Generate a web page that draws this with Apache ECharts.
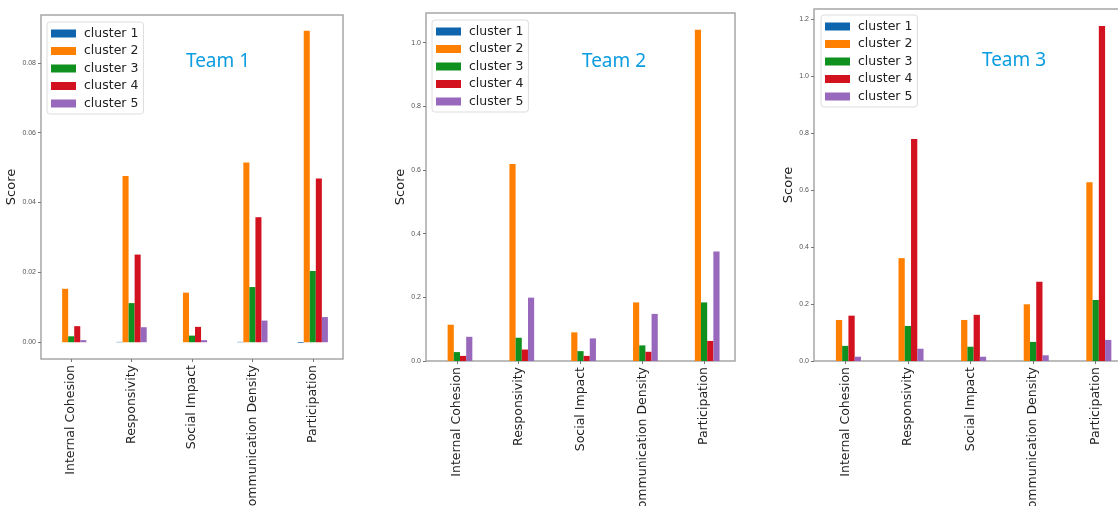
<!DOCTYPE html>
<html>
<head>
<meta charset="utf-8">
<script src="https://cdn.jsdelivr.net/npm/echarts@6/dist/echarts.min.js"></script>
<style>
  html, body { margin: 0; padding: 0; background: #fff; }
  #main { width: 1118px; height: 506px; }
</style>
</head>
<body>
<div id="main"></div>
<script>
// data
var categories = ['Internal Cohesion', 'Responsivity', 'Social Impact', 'Communication Density', 'Participation'];
var clusterNames = ['cluster 1', 'cluster 2', 'cluster 3', 'cluster 4', 'cluster 5'];
var clusterColors = ['#0f64ae', '#ff8000', '#10901e', '#d2121f', '#9868bd'];

// Team 1
var team1_c1 = [0, 0.0001, 0, 0.0001, -0.0002];
var team1_c2 = [0.0153, 0.0476, 0.0142, 0.0515, 0.0892];
var team1_c3 = [0.0017, 0.0112, 0.0019, 0.0158, 0.0204];
var team1_c4 = [0.0046, 0.0251, 0.0044, 0.0358, 0.0469];
var team1_c5 = [0.0006, 0.0043, 0.0006, 0.0062, 0.0072];

// Team 2
var team2_c1 = [0, 0, 0, 0, 0];
var team2_c2 = [0.114, 0.619, 0.090, 0.184, 1.040];
var team2_c3 = [0.028, 0.073, 0.031, 0.049, 0.184];
var team2_c4 = [0.016, 0.036, 0.016, 0.029, 0.063];
var team2_c5 = [0.076, 0.199, 0.071, 0.148, 0.344];

// Team 3
var team3_c1 = [0, 0, 0, 0, 0];
var team3_c2 = [0.144, 0.361, 0.144, 0.199, 0.627];
var team3_c3 = [0.053, 0.123, 0.050, 0.067, 0.214];
var team3_c4 = [0.159, 0.779, 0.162, 0.278, 1.175];
var team3_c5 = [0.015, 0.043, 0.015, 0.020, 0.074];

var team1Ticks = [0, 0.02, 0.04, 0.06, 0.08];
var team2Ticks = [0, 0.2, 0.4, 0.6, 0.8, 1.0];
var team3Ticks = [0, 0.2, 0.4, 0.6, 0.8, 1.0, 1.2];

var teams = [
    { title: 'Team 1', data: [team1_c1, team1_c2, team1_c3, team1_c4, team1_c5], ticks: team1Ticks, min: -0.0048, max: 0.0937, digits: 2,
      grid: { left: 41, top: 15, width: 302, height: 344 }, nameGap: 19, legend: { left: 47, top: 22 }, titlePos: [218, 62] },
    { title: 'Team 2', data: [team2_c1, team2_c2, team2_c3, team2_c4, team2_c5], ticks: team2Ticks, min: 0, max: 1.093, digits: 1,
      grid: { left: 426, top: 13, width: 309, height: 348 }, nameGap: 16, legend: { left: 432, top: 20 }, titlePos: [614, 62] },
    { title: 'Team 3', data: [team3_c1, team3_c2, team3_c3, team3_c4, team3_c5], ticks: team3Ticks, min: 0, max: 1.235, digits: 1,
      grid: { left: 814, top: 9, width: 313, height: 352 }, nameGap: 15, legend: { left: 821, top: 15 }, titlePos: [1014, 61] }
];

var chart = echarts.init(document.getElementById('main'), null, { renderer: 'canvas' });

var grids = [], xAxes = [], yAxes = [], series = [], legends = [], graphics = [];

teams.forEach(function (t, i) {
    grids.push({
        left: t.grid.left, top: t.grid.top, width: t.grid.width, height: t.grid.height,
        containLabel: false, outerBoundsMode: 'none',
        show: true, borderColor: '#a6a6a6', borderWidth: 1.5, backgroundColor: 'transparent'
    });
    xAxes.push({
        type: 'category', gridIndex: i, data: categories, boundaryGap: true,
        axisLine: { show: false, onZero: false },
        axisTick: { show: true, alignWithLabel: true, length: 3, lineStyle: { color: '#777' } },
        axisLabel: { rotate: 90, fontSize: 12.5, color: '#222', margin: 6, fontFamily: 'DejaVu Sans', interval: 0 },
        splitLine: { show: false }
    });
    var digits = t.digits;
    yAxes.push({
        type: 'value', gridIndex: i, min: t.min, max: t.max,
        name: 'Score', nameLocation: 'middle', nameGap: t.nameGap,
        nameTextStyle: { fontSize: 13, color: '#222', fontFamily: 'DejaVu Sans' },
        axisLine: { show: false },
        axisTick: { show: true, length: 3, customValues: t.ticks, lineStyle: { color: '#777' } },
        axisLabel: {
            fontSize: 7, color: '#555', margin: 5, customValues: t.ticks,
            formatter: function (v) { return v.toFixed(digits); }
        },
        splitLine: { show: false }
    });
    t.data.forEach(function (vals, k) {
        series.push({
            type: 'bar', name: clusterNames[k], xAxisIndex: i, yAxisIndex: i,
            data: vals, barWidth: '10%', barGap: '0%',
            itemStyle: { color: clusterColors[k] },
            animation: false
        });
    });
    legends.push({
        left: t.legend.left, top: t.legend.top, orient: 'vertical',
        data: clusterNames, icon: 'rect', itemWidth: 25, itemHeight: 8, itemGap: 4.5,
        padding: [5, 5, 4, 4],
        borderColor: '#dddddd', borderWidth: 1, borderRadius: 3, backgroundColor: '#fff',
        textStyle: { fontSize: 12.5, color: '#222', fontFamily: 'DejaVu Sans', padding: [0, 0, 0, 3] },
        selectedMode: false
    });
    graphics.push({
        type: 'text', x: t.titlePos[0], y: t.titlePos[1],
        style: { text: t.title, fill: '#0c9de0', font: '19px "Noto Sans"', textAlign: 'center', textVerticalAlign: 'middle' }
    });
});

chart.setOption({
    animation: false,
    grid: grids,
    xAxis: xAxes,
    yAxis: yAxes,
    legend: legends,
    series: series,
    graphic: graphics
});
</script>
</body>
</html>
